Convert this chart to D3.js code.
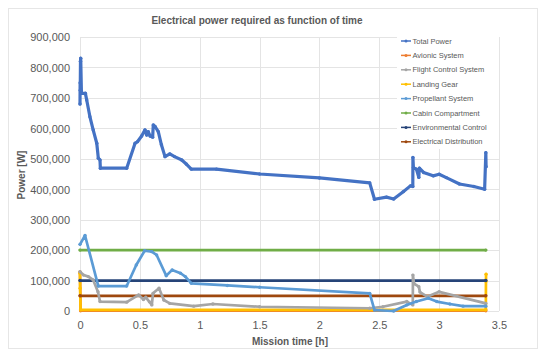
<!DOCTYPE html>
<html>
<head>
<meta charset="utf-8">
<script src="https://cdn.jsdelivr.net/npm/d3@7"></script>
<style>
  body { margin: 0; background: #fff; }
  svg text { font-family: "Liberation Sans", Arial, sans-serif; fill: #595959; }
</style>
</head>
<body>
<div id="chart"></div>
<script>
// values in kW
const TIME_TOTAL = [0,0.001,0.002,0.004,0.006,0.012,0.045,0.056,0.083,0.11,0.14,0.153,0.167,0.17,0.39,0.46,0.48,0.515,0.543,0.557,0.57,0.585,0.607,0.612,0.627,0.654,0.68,0.71,0.75,0.79,0.85,0.89,0.93,1.14,1.5,2.0,2.42,2.46,2.56,2.62,2.70,2.76,2.78,2.781,2.785,2.81,2.83,2.835,2.87,2.95,3.0,3.06,3.17,3.29,3.38,3.39,3.392];
const POWER_TOTAL = [680,750,725,820,830,715,715,693,638,595,551,502,496,469,469,551,556,575,595,578,589,575,571,611,606,589,546,507,516,507,496,482,466,466,450,437,421,367,374,368,392,411,409,504,471,466,439,469,455,444,449,438,417,409,400,520,474];

const TIME_AVIONIC = [0,0.005,3.39];
const POWER_AVIONIC = [128,1,1];

const TIME_FLIGHT = [0,0.03,0.07,0.11,0.15,0.167,0.39,0.49,0.53,0.55,0.58,0.6,0.61,0.66,0.7,0.75,0.95,1.11,1.5,2.42,2.53,2.73,2.78,2.781,2.79,2.83,2.84,2.9,3.0,3.39];
const POWER_FLIGHT = [129,118,113,102,63,31,29,53,38,45,30,20,58,75,36,25,16,23,14,9,14,31,20,118,90,80,62,47,63,25];

const TIME_GEAR = [0,0.001,0.005,3.39,3.391,3.392];
const POWER_GEAR = [124,75,4,4,98,121];

const TIME_PROP = [0,0.042,0.153,0.39,0.47,0.54,0.6,0.64,0.72,0.77,0.84,0.88,0.93,1.23,1.5,2.42,2.46,2.62,2.73,2.81,2.91,2.98,3.09,3.2,3.39];
const POWER_PROP = [219,248,82,82,151,198,195,184,116,135,124,113,91,84,78,58,3,0,20,31,42,31,23,16,16];

const TIME_CONST = [0,3.39];
const POWER_CABIN = [200,200];
const POWER_ENV = [100,100];
const POWER_ELEC = [50,50];

const SERIES_NAMES = ['Total Power','Avionic System','Flight Control System','Landing Gear','Propellant System','Cabin Compartment','Environmental Control','Electrical Distribution'];
const SERIES_COLORS = ['#4472C4','#ED7D31','#A5A5A5','#FFC000','#5B9BD5','#70AD47','#264478','#9E480E'];

const Y_TICKS = [0,100000,200000,300000,400000,500000,600000,700000,800000,900000];
const X_TICKS = [0,0.5,1,1.5,2,2.5,3,3.5];

const zip = (t, v) => t.map((d, i) => ({ t: d, v: v[i] * 1000 }));
const seriesData = [
  zip(TIME_TOTAL, POWER_TOTAL),
  zip(TIME_AVIONIC, POWER_AVIONIC),
  zip(TIME_FLIGHT, POWER_FLIGHT),
  zip(TIME_GEAR, POWER_GEAR),
  zip(TIME_PROP, POWER_PROP),
  zip(TIME_CONST, POWER_CABIN),
  zip(TIME_CONST, POWER_ENV),
  zip(TIME_CONST, POWER_ELEC)
];
// draw order: constants under, total on top
const drawOrder = [1, 3, 5, 6, 7, 2, 4, 0];

const width = 550;
const height = 354;
const margin = { left: 80, right: 51, top: 37, bottom: 43 };

const svg = d3.select('#chart').append('svg')
  .attr('width', width)
  .attr('height', height);

// chart frame
svg.append('rect')
  .attr('x', 8.5).attr('y', 8.5)
  .attr('width', 529).attr('height', 340)
  .attr('fill', 'none')
  .attr('stroke', '#e6e6e6');

const x = d3.scaleLinear().domain([0, 3.5]).range([margin.left, width - margin.right]);
const y = d3.scaleLinear().domain([0, 900000]).range([height - margin.bottom, margin.top]);

// gridlines
svg.append('g')
  .selectAll('line.h')
  .data(Y_TICKS)
  .join('line')
  .attr('x1', x(0)).attr('x2', x(3.5))
  .attr('y1', d => Math.round(y(d)) + 0.5).attr('y2', d => Math.round(y(d)) + 0.5)
  .attr('stroke', '#e4e4e4');
svg.append('g')
  .selectAll('line.v')
  .data(X_TICKS)
  .join('line')
  .attr('x1', d => Math.round(x(d)) + 0.5).attr('x2', d => Math.round(x(d)) + 0.5)
  .attr('y1', y(0)).attr('y2', y(900000))
  .attr('stroke', '#e4e4e4');

// axes (labels only)
const yAxis = svg.append('g')
  .attr('transform', `translate(${margin.left - 10},0)`)
  .call(d3.axisLeft(y).tickValues(Y_TICKS).tickSize(0).tickFormat(d3.format(',')));
yAxis.select('.domain').remove();
yAxis.selectAll('text').attr('font-size', 11).attr('dy', '0.35em').attr('x', 0);

const xAxis = svg.append('g')
  .attr('transform', `translate(0,${y(0) + 10})`)
  .call(d3.axisBottom(x).tickValues(X_TICKS).tickSize(0).tickFormat(d => d));
xAxis.select('.domain').remove();
xAxis.selectAll('text').attr('font-size', 11).attr('dy', '0.71em').attr('y', 0);

// series
const line = d3.line().x(d => x(d.t)).y(d => y(d.v));
drawOrder.forEach(i => {
  const g = svg.append('g');
  g.append('path')
    .datum(seriesData[i])
    .attr('fill', 'none')
    .attr('stroke', SERIES_COLORS[i])
    .attr('stroke-width', i == 0 ? 3.2 : 2.7)
    .attr('stroke-linejoin', 'round')
    .attr('stroke-linecap', 'round')
    .attr('d', line);
  g.selectAll('circle')
    .data(seriesData[i])
    .join('circle')
    .attr('cx', d => x(d.t))
    .attr('cy', d => y(d.v))
    .attr('r', 1.7)
    .attr('fill', SERIES_COLORS[i]);
});

// legend box
const legend = svg.append('g');
legend.append('rect')
  .attr('x', 397).attr('y', 33)
  .attr('width', 102).attr('height', 116)
  .attr('fill', '#fff');
const row = legend.selectAll('g.row')
  .data(SERIES_NAMES)
  .join('g')
  .attr('transform', (d, i) => `translate(401,${41 + i * 14.4})`);
row.append('line')
  .attr('x1', 0).attr('x2', 10)
  .attr('stroke', (d, i) => SERIES_COLORS[i])
  .attr('stroke-width', 1.5);
row.append('circle')
  .attr('cx', 5).attr('r', 1.5)
  .attr('fill', (d, i) => SERIES_COLORS[i]);
row.append('text')
  .attr('x', 11.5)
  .attr('dy', '0.35em')
  .attr('font-size', 7.5)
  .text(d => d);

// titles
svg.append('text')
  .attr('x', 257).attr('y', 24)
  .attr('text-anchor', 'middle')
  .attr('font-size', 10)
  .attr('font-weight', 'bold')
  .text('Electrical power required as function of time');

svg.append('text')
  .attr('x', 290).attr('y', 345)
  .attr('text-anchor', 'middle')
  .attr('font-size', 10)
  .attr('font-weight', 'bold')
  .text('Mission time [h]');

svg.append('text')
  .attr('transform', 'translate(25,175) rotate(-90)')
  .attr('text-anchor', 'middle')
  .attr('font-size', 10)
  .attr('font-weight', 'bold')
  .text('Power [W]');
</script>
</body>
</html>
